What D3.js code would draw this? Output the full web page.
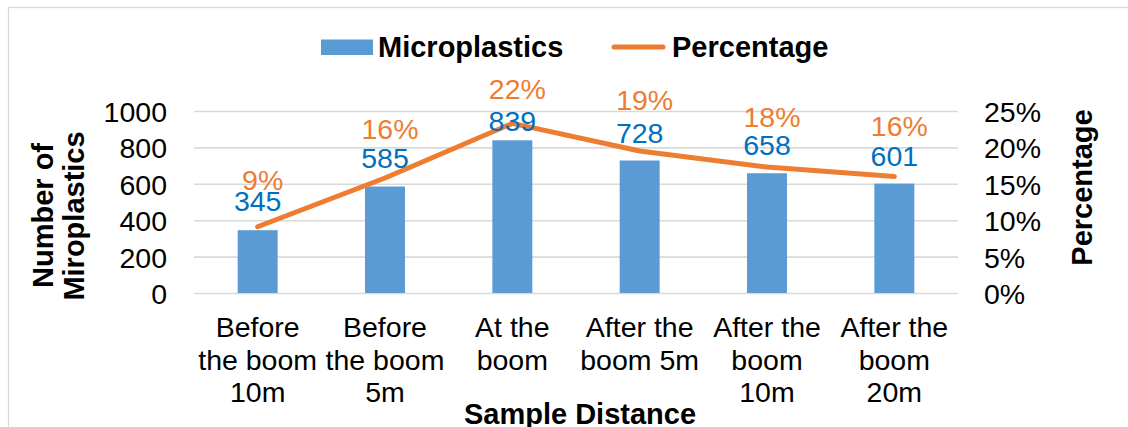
<!DOCTYPE html>
<html>
<head>
<meta charset="utf-8">
<script src="https://cdn.jsdelivr.net/npm/d3@7"></script>
<style>
  html, body { margin: 0; padding: 0; background: #fff; }
  svg { display: block; }
  text { font-family: "Liberation Sans", Arial, sans-serif; }
</style>
</head>
<body>
<svg id="chart" width="1128" height="427"></svg>
<script>
// ---- data ----
const categories = ["Before the boom 10m", "Before the boom 5m", "At the boom",
                    "After the boom 5m", "After the boom 10m", "After the boom 20m"];
const categoryLines = [["Before", "the boom", "10m"], ["Before", "the boom", "5m"],
                       ["At the", "boom"], ["After the", "boom 5m"],
                       ["After the", "boom", "10m"], ["After the", "boom", "20m"]];
const microplastics = [345, 585, 839, 728, 658, 601];
const percentage = [9.1, 15.8, 23.3, 19.5, 17.3, 16.0];
const percentageLabels = ["9%", "16%", "22%", "19%", "18%", "16%"];
const leftTicks = [0, 200, 400, 600, 800, 1000];
const rightTicks = [0, 5, 10, 15, 20, 25];

// ---- layout (not data) ----
const barLabelLift = [19, 18.5, 9, 17.5, 18, 18];
const pctLabelLift = [37, 38.5, 24, 41.5, 40, 40.5];
const BLUE = "#5B9BD5", ORANGE = "#ED7D31", LABEL_BLUE = "#0070C0", GRID = "#d9d9d9";
const plot = { left: 194, right: 958, top: 111, bottom: 293 };
const REG = 28.5, BOLD = 29;

const svg = d3.select("#chart");

// outer border
svg.append("rect").attr("x", 8.5).attr("y", 7.5).attr("width", 1130).attr("height", 430)
  .attr("fill", "#fff").attr("stroke", GRID).attr("stroke-width", 1.25);

const x = d3.scaleBand().domain(categories).range([plot.left, plot.right])
  .paddingInner(0.686).paddingOuter(0.343);
const y = d3.scaleLinear().domain([0, 1000]).range([plot.bottom, plot.top]);
const yP = d3.scaleLinear().domain([0, 25]).range([plot.bottom, plot.top]);

// gridlines
const grid = svg.append("g").attr("transform", `translate(${plot.left},0)`)
  .call(d3.axisLeft(y).tickValues(leftTicks).tickSize(-(plot.right - plot.left)).tickFormat(""));
grid.select(".domain").remove();
grid.selectAll(".tick line").attr("stroke", GRID).attr("stroke-width", 1.6);

// left axis
const ax = svg.append("g").attr("transform", `translate(${plot.left},0)`)
  .call(d3.axisLeft(y).tickValues(leftTicks).tickSize(0).tickPadding(27).tickFormat(d3.format("d")));
ax.select(".domain").remove();
ax.selectAll("text").attr("font-size", REG).attr("fill", "#000")
  .attr("font-family", '"Liberation Sans", Arial, sans-serif').attr("dy", "0.37em");

// right axis
const axR = svg.append("g").attr("transform", `translate(${plot.right},0)`)
  .call(d3.axisRight(yP).tickValues(rightTicks).tickSize(0).tickPadding(26).tickFormat(d => d + "%"));
axR.select(".domain").remove();
axR.selectAll("text").attr("font-size", REG).attr("fill", "#000")
  .attr("font-family", '"Liberation Sans", Arial, sans-serif').attr("dy", "0.37em");

// bars
svg.append("g").selectAll("rect").data(microplastics).join("rect")
  .attr("x", (d, i) => x(categories[i]))
  .attr("width", x.bandwidth())
  .attr("y", d => y(d))
  .attr("height", d => y(0) - y(d))
  .attr("fill", BLUE);

// line
const cx = i => x(categories[i]) + x.bandwidth() / 2;
const line = d3.line().x((d, i) => cx(i)).y(d => yP(d));
svg.append("path").datum(percentage).attr("d", line)
  .attr("fill", "none").attr("stroke", ORANGE).attr("stroke-width", 5)
  .attr("stroke-linecap", "round").attr("stroke-linejoin", "round");

// bar labels
svg.append("g").selectAll("text").data(microplastics).join("text")
  .attr("x", (d, i) => cx(i))
  .attr("y", (d, i) => y(d) - barLabelLift[i])
  .attr("text-anchor", "middle").attr("font-size", REG).attr("fill", LABEL_BLUE)
  .text(d => d);

// percentage labels
svg.append("g").selectAll("text").data(percentage).join("text")
  .attr("x", (d, i) => cx(i) + 5)
  .attr("y", (d, i) => yP(d) - pctLabelLift[i])
  .attr("text-anchor", "middle").attr("font-size", REG).attr("fill", ORANGE)
  .text((d, i) => percentageLabels[i]);

// category labels
const cat = svg.append("g").selectAll("text").data(categoryLines).join("text")
  .attr("text-anchor", "middle").attr("font-size", REG).attr("fill", "#000");
cat.each(function (lines, i) {
  d3.select(this).selectAll("tspan").data(lines).join("tspan")
    .attr("x", cx(i)).attr("y", (l, j) => 337 + j * 32.5).text(l => l);
});

// axis titles
svg.append("text").attr("transform", "translate(53,215.5) rotate(-90)")
  .attr("text-anchor", "middle").attr("font-size", BOLD).attr("font-weight", "bold").text("Number of");
svg.append("text").attr("transform", "translate(83.5,216) rotate(-90)")
  .attr("text-anchor", "middle").attr("font-size", BOLD).attr("font-weight", "bold").text("Miroplastics");
svg.append("text").attr("transform", "translate(1091.5,187.5) rotate(-90)")
  .attr("text-anchor", "middle").attr("font-size", BOLD).attr("font-weight", "bold").text("Percentage");
svg.append("text").attr("x", 580).attr("y", 424)
  .attr("text-anchor", "middle").attr("font-size", BOLD).attr("font-weight", "bold").text("Sample Distance");

// legend
const lg = svg.append("g");
lg.append("rect").attr("x", 321).attr("y", 39.5).attr("width", 52).attr("height", 15.5).attr("fill", BLUE);
lg.append("text").attr("x", 378).attr("y", 56.7).attr("font-size", BOLD).attr("font-weight", "bold").text("Microplastics");
lg.append("line").attr("x1", 614).attr("x2", 663).attr("y1", 47).attr("y2", 47)
  .attr("stroke", ORANGE).attr("stroke-width", 5).attr("stroke-linecap", "round");
lg.append("text").attr("x", 672).attr("y", 56.7).attr("font-size", BOLD).attr("font-weight", "bold").text("Percentage");
</script>
</body>
</html>
